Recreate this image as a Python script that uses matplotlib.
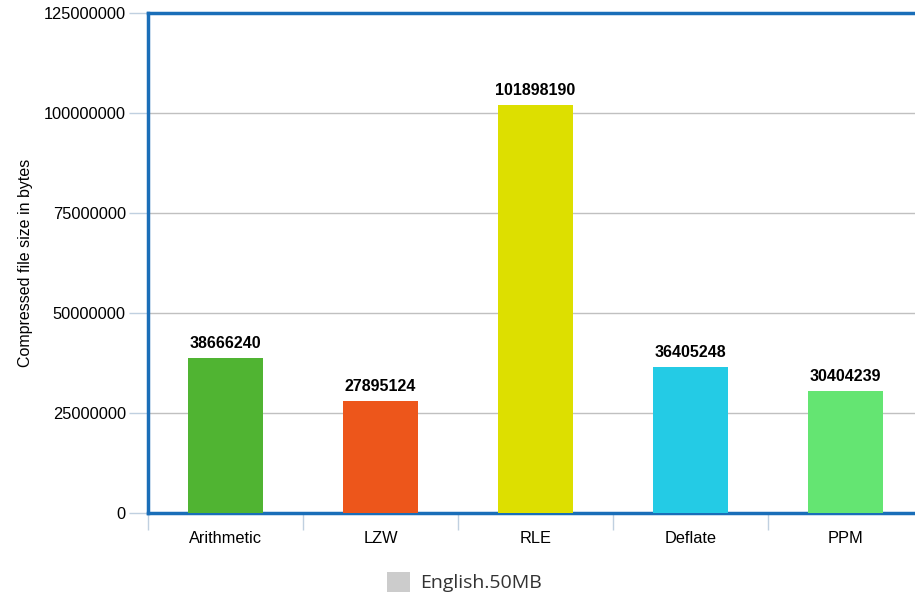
import matplotlib.pyplot as plt
from matplotlib.patches import Patch

algorithms = ["Arithmetic", "LZW", "RLE", "Deflate", "PPM"]
sizes = [38666240, 27895124, 101898190, 36405248, 30404239]
colors = ["#50B432", "#ED561B", "#DDDF00", "#24CBE5", "#64E572"]
y_ticks = [0, 25000000, 50000000, 75000000, 100000000, 125000000]

plt.rcParams["font.family"] = ["Liberation Sans", "DejaVu Sans"]

fig = plt.figure(figsize=(9.15, 6), dpi=100)
# plot area runs past the right edge of the canvas
ax = fig.add_axes([148 / 915, 87 / 600, 775 / 915, 500 / 600])

x = range(len(algorithms))
bars = ax.bar(x, sizes, width=0.48, color=colors, zorder=3)
for b, v in zip(bars, sizes):
    ax.annotate(str(v), (b.get_x() + b.get_width() / 2, v),
                xytext=(0, 5), textcoords="offset points",
                ha="center", va="bottom", fontsize=11.5, fontweight="bold",
                color="black", zorder=4)

ax.set_xlim(-0.5, len(algorithms) - 0.5)
ax.set_ylim(0, 125000000)
ax.set_yticks(y_ticks)
ax.set_yticklabels([str(t) for t in y_ticks], fontsize=11.8)
ax.yaxis.grid(True, color="#c0c0c0", linewidth=1, zorder=0)

ax.set_xticks(list(x))
ax.set_xticklabels(algorithms, fontsize=11.8)
ax.tick_params(axis="x", length=0, pad=13)
ax.set_xticks([i - 0.5 for i in range(len(algorithms) + 1)], minor=True)
ax.tick_params(axis="x", which="minor", length=12, color="#c0d0e0", width=1)
ax.tick_params(axis="y", length=14, color="#c0d0e0", width=1, pad=2)

for side in ["left", "top", "bottom"]:
    ax.spines[side].set_color("#1a6eb8")
    ax.spines[side].set_linewidth(2.5)
ax.spines["right"].set_visible(False)

ax.set_ylabel("Compressed file size in bytes", fontsize=11.5, labelpad=8)

fig.legend(handles=[Patch(facecolor="#cccccc", edgecolor="none")],
           labels=["English.50MB"], loc="center", bbox_to_anchor=(464 / 915, 18 / 600),
           frameon=False, handlelength=1.2, handleheight=1.2, handletextpad=0.5,
           prop={"family": "Open Sans", "size": 14}, labelcolor="#333333")

fig.savefig("out.png", dpi=100)
